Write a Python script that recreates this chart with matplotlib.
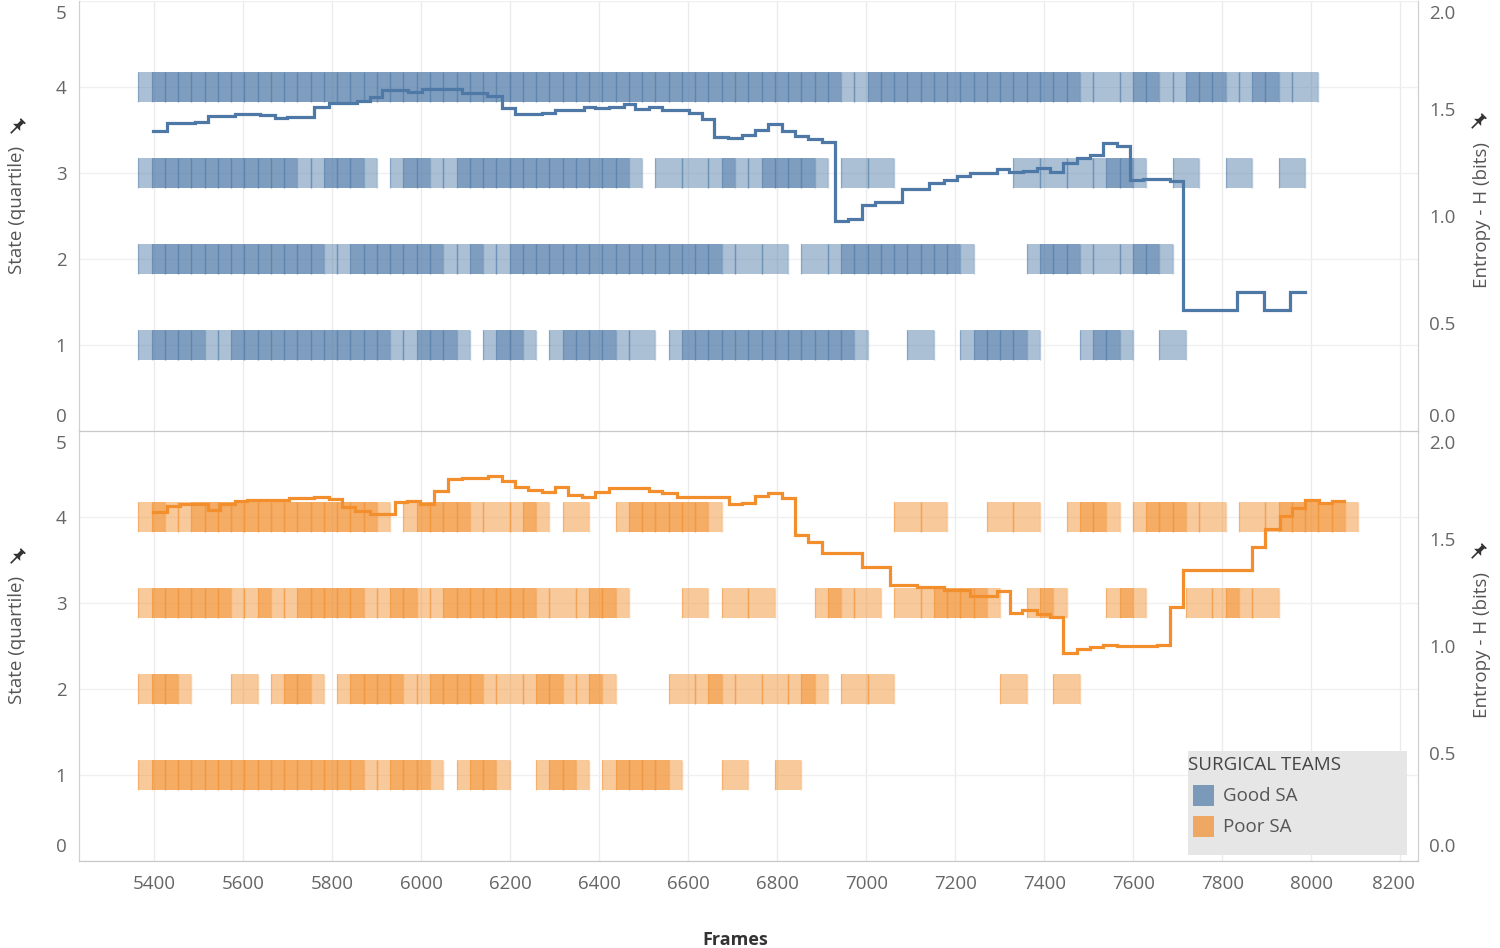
import numpy as np
import matplotlib.pyplot as plt
from matplotlib.patches import Rectangle, Polygon
from matplotlib.lines import Line2D
from matplotlib.transforms import ScaledTranslation

plt.rcParams['font.family'] = ['Open Sans', 'DejaVu Sans']

# sampling of the state data (one sample per second of video)
FRAME0 = 5394
STEP = 29.8

# state masks, one char per sample: '1' = team in that quartile
good_q4 = ("1111111111" "1111111111" "1111111111" "1111111111" "1111111111"
           "1110111111" "1111111111" "1010111011" "11011101000")
good_q3 = ("1111111111" "1101111001" "1101111111" "1111111001" "0101101111"
           "1001010000" "0000001010" "1011100010" "00100010000")
good_q2 = ("1111111111" "1111011111" "1110110111" "1111111111" "1111010100"
           "1011111111" "1100000111" "1010111000" "00000000000")
good_q1 = ("1111101111" "1111111110" "1111001110" "0111110100" "1111111111"
           "1111000010" "0011111000" "0111000100" "00000000000")

poor_q4 = ("1101111111" "1111111100" "1111101011" "0010001111" "1110000000"
           "0000000101" "0000101000" "1110011110" "10010111111")
poor_q3 = ("1111111011" "0111111011" "1011111111" "0101110000" "0100101000"
           "0110100101" "1111000110" "0001100001" "01101000000")
poor_q2 = ("1110000100" "1110011111" "0111110101" "1101100000" "1011010101"
           "1001010000" "0000010001" "0000000000" "00000000000")
poor_q1 = ("1111111111" "1111111011" "1100111000" "1110011111" "0000100010"
           "0000000000" "0000000000" "0000000000" "00000000000")

# entropy step lines (frame where the value starts, value in bits)
good_frames = [5397, 5428, 5492, 5522, 5582, 5638, 5672, 5698, 5758, 5792,
               5856, 5885, 5912, 5971, 6002, 6091, 6148, 6181, 6211, 6271,
               6301, 6365, 6391, 6421, 6455, 6481, 6511, 6541, 6601, 6631,
               6657, 6690, 6720, 6751, 6780, 6810, 6840, 6870, 6900, 6930,
               6960, 6990, 7020, 7080, 7140, 7174, 7204, 7234, 7264, 7294,
               7320, 7353, 7384, 7413, 7443, 7473, 7503, 7532, 7563, 7593,
               7623, 7683, 7713, 7833, 7893, 7953, 7987]
good_entropy = [1.397, 1.431, 1.439, 1.465, 1.473, 1.470, 1.454, 1.462, 1.508, 1.524,
                1.535, 1.555, 1.586, 1.575, 1.589, 1.574, 1.560, 1.504, 1.473, 1.481,
                1.493, 1.508, 1.501, 1.508, 1.519, 1.496, 1.508, 1.493, 1.478, 1.450,
                1.369, 1.364, 1.377, 1.400, 1.426, 1.397, 1.372, 1.357, 1.342, 0.977,
                0.985, 1.051, 1.064, 1.126, 1.155, 1.167, 1.186, 1.201, 1.198, 1.217,
                1.206, 1.211, 1.222, 1.206, 1.248, 1.268, 1.284, 1.338, 1.326, 1.167,
                1.171, 1.165, 0.563, 0.648, 0.563, 0.648, 0.648]

poor_frames = [5398, 5429, 5458, 5522, 5548, 5582, 5608, 5638, 5702, 5758,
               5792, 5822, 5852, 5885, 5942, 5968, 5998, 6028, 6061, 6091,
               6125, 6151, 6181, 6211, 6241, 6271, 6301, 6331, 6361, 6391,
               6421, 6511, 6541, 6575, 6661, 6691, 6721, 6751, 6780, 6811,
               6840, 6870, 6900, 6990, 7054, 7114, 7174, 7234, 7294, 7324,
               7350, 7384, 7413, 7443, 7473, 7503, 7533, 7563, 7653, 7683,
               7713, 7867, 7897, 7930, 7957, 7987, 8017, 8047, 8073]
poor_entropy = [1.622, 1.653, 1.659, 1.633, 1.659, 1.674, 1.678, 1.681, 1.687, 1.694,
                1.682, 1.648, 1.628, 1.612, 1.671, 1.674, 1.659, 1.721, 1.777, 1.783,
                1.780, 1.792, 1.767, 1.741, 1.726, 1.718, 1.741, 1.702, 1.692, 1.718,
                1.733, 1.722, 1.710, 1.694, 1.692, 1.660, 1.664, 1.698, 1.710, 1.687,
                1.516, 1.485, 1.431, 1.369, 1.284, 1.276, 1.260, 1.233, 1.257, 1.155,
                1.167, 1.149, 1.136, 0.969, 0.985, 0.997, 1.003, 1.000, 1.005, 1.180,
                1.353, 1.459, 1.543, 1.605, 1.640, 1.679, 1.667, 1.674, 1.674]

x_ticks = list(range(5400, 8201, 200))
state_levels = [4, 3, 2, 1]

BLUE = (0x4e / 255, 0x79 / 255, 0xa7 / 255)
ORANGE = (0xf2 / 255, 0x8e / 255, 0x2b / 255)
BAR_H = 0.35
W, H = 1500, 948
TICK_SIZE = 13.5


def fx(px):
    return px / W


def fy(py):
    return 1 - py / H


def draw_states(ax, masks, rgb):
    for level, mask in zip(state_levels, masks):
        frames = FRAME0 + STEP * np.arange(len(mask))
        on = np.array([c == '1' for c in mask])
        x = frames[on]
        ax.bar(x, BAR_H, width=2 * STEP, bottom=level - BAR_H / 2,
               facecolor=rgb + (0.47,), edgecolor='none', zorder=2)
        # thin borders on the sides of each mark
        edges = np.concatenate([x - STEP, x + STEP])
        ax.vlines(edges, level - BAR_H / 2, level + BAR_H / 2, colors=[rgb + (0.4,)],
                  lw=1.0, zorder=2)


def shift_label(fig, label, dy_px):
    label.set_va('center')
    label.set_transform(label.get_transform() +
                        ScaledTranslation(0, dy_px / 100, fig.dpi_scale_trans))


def style_panel(fig, ax, ax2, show_x):
    ax.set_xlim(5231, 8240)
    ax.set_ylim(0, 5)
    ax2.set_ylim(0, 2)
    ax.set_xticks(x_ticks)
    ax.set_yticks(range(6))
    ax.set_yticklabels([str(i) for i in range(6)])
    ax2.set_yticks([0, 0.5, 1.0, 1.5, 2.0])
    ax2.set_yticklabels(['0.0', '0.5', '1.0', '1.5', '2.0'])
    ax.set_axisbelow(True)
    ax.grid(axis='x', color='#ebebeb', lw=1)
    ax.grid(axis='y', color='#f0f0f0', lw=1)
    ax.tick_params(axis='x', length=0, pad=10, labelsize=TICK_SIZE, labelcolor='#666666',
                   labelbottom=show_x)
    ax.tick_params(axis='y', length=0, pad=9, labelsize=TICK_SIZE, labelcolor='#666666')
    ax2.tick_params(axis='y', length=0, pad=8, labelsize=TICK_SIZE, labelcolor='#666666')
    for a in (ax, ax2):
        a.spines['top'].set_visible(False)
        a.spines['left'].set_color('#d0d0d0')
        a.spines['right'].set_color('#d0d0d0')
        a.spines['bottom'].set_color('#c8c8c8')
    # tableau keeps the end labels inside the pane
    for labels in (ax.get_yticklabels(), ax2.get_yticklabels()):
        shift_label(fig, labels[0], 14)
        shift_label(fig, labels[-1], -13)
    if show_x:
        last = ax.get_xticklabels()[-1]
        last.set_transform(last.get_transform() +
                           ScaledTranslation(-7 / 100, 0, fig.dpi_scale_trans))


def draw_pin(fig, cx, cy):
    pts = [(-3.5, -9), (3.5, -9), (3.5, -7.5), (2, -7), (2, -2.5), (5, 0.5),
           (-5, 0.5), (-2, -2.5), (-2, -7), (-3.5, -7.5)]
    t = np.deg2rad(45)

    def rot(p):
        x, y = p
        return (cx + x * np.cos(t) - y * np.sin(t), cy + x * np.sin(t) + y * np.cos(t))

    head = [rot(p) for p in pts]
    fig.add_artist(Polygon([(fx(x), fy(y)) for x, y in head], closed=True,
                           transform=fig.transFigure, facecolor='#333333',
                           edgecolor='none'))
    n0, n1 = rot((0, 0.5)), rot((0, 8))
    fig.add_artist(Line2D([fx(n0[0]), fx(n1[0])], [fy(n0[1]), fy(n1[1])],
                          transform=fig.transFigure, color='#333333', lw=1.2))


fig = plt.figure(figsize=(15, 9.48), dpi=100)
ax_top = fig.add_axes([fx(79), fy(431), fx(1339), 430 / H])
ax_bot = fig.add_axes([fx(79), fy(861), fx(1339), 430 / H])

panels = [
    (ax_top, [good_q4, good_q3, good_q2, good_q1], BLUE, good_frames, good_entropy, False),
    (ax_bot, [poor_q4, poor_q3, poor_q2, poor_q1], ORANGE, poor_frames, poor_entropy, True),
]
for ax, masks, rgb, frames, entropy, show_x in panels:
    draw_states(ax, masks, rgb)
    ax2 = ax.twinx()
    ax2.step(frames, entropy, where='post', color=rgb, lw=2.3, zorder=3,
             solid_joinstyle='miter')
    style_panel(fig, ax, ax2, show_x)

# axis titles
for yc in (210, 640):
    fig.text(fx(17), fy(yc), 'State (quartile)', rotation=90, ha='center', va='center',
             fontsize=13.5, color='#555555')
for yc in (215, 645):
    fig.text(fx(1482), fy(yc), 'Entropy - H (bits)', rotation=90, ha='center',
             va='center', fontsize=13.5, color='#555555')
for px, py in ((17, 127), (17, 557), (1478, 122), (1478, 552)):
    draw_pin(fig, px, py)
fig.text(fx(735), fy(940), 'Frames', ha='center', va='center', fontsize=13,
         fontweight='bold', color='#333333')

# legend
fig.add_artist(Rectangle((fx(1188), fy(855)), fx(219), 104 / H, transform=fig.transFigure,
                         facecolor='#e6e6e6', edgecolor='none', zorder=5))
fig.text(fx(1188), fy(765), 'SURGICAL TEAMS', ha='left', va='center', fontsize=13.5,
         color='#444444', zorder=6)
for yc, rgb, name in ((796, BLUE, 'Good SA'), (827, ORANGE, 'Poor SA')):
    fig.add_artist(Rectangle((fx(1193), fy(yc + 10)), fx(21), 21 / H,
                             transform=fig.transFigure, facecolor=rgb + (0.7,),
                             edgecolor='none', zorder=6))
    fig.text(fx(1223), fy(yc), name, ha='left', va='center', fontsize=13.5,
             color='#555555', zorder=6)

fig.savefig('out.png', dpi=100)
